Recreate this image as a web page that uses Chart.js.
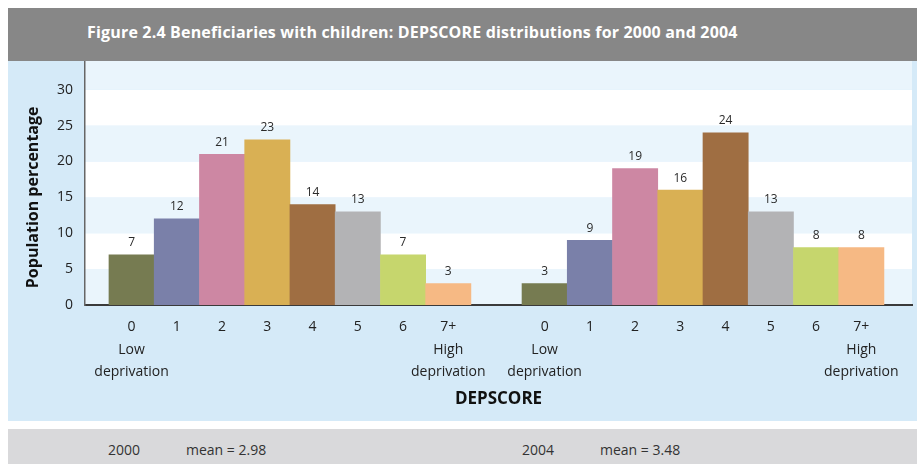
<!DOCTYPE html>
<html>
<head>
<meta charset="utf-8">
<script src="https://cdn.jsdelivr.net/npm/chart.js@4.4.1/dist/chart.umd.min.js"></script>
<style>
  body { margin: 0; background: #fff; width: 917px; height: 464px; position: relative; overflow: hidden; font-family: "Open Sans", sans-serif; }
  #header { position: absolute; left: 8px; top: 8px; width: 909px; height: 53px; background: #878787; }
  #header h1 { position: absolute; left: 79px; top: 14px; margin: 0; color: #fff; font: bold 16px/20px "Open Sans", sans-serif; letter-spacing: 0.18px; white-space: nowrap; }
  #panel { position: absolute; left: 8px; top: 61px; width: 909px; height: 360px; background: #d5eaf8; }
  #footer { position: absolute; left: 8px; top: 429px; width: 909px; height: 35px; background: #d9d9db; color: #333; font-size: 14px; line-height: 20px; }
  #footer span { position: absolute; top: 11px; white-space: nowrap; }
</style>
</head>
<body>
<div id="header"><h1>Figure 2.4 Beneficiaries with children: DEPSCORE distributions for 2000 and 2004</h1></div>
<div id="panel"><canvas id="depChart"></canvas></div>
<div id="footer">
  <span style="left:100px">2000</span><span style="left:178px">mean = 2.98</span>
  <span style="left:514px">2004</span><span style="left:592px">mean = 3.48</span>
</div>
<script>
const scoreLabels = ['0', '1', '2', '3', '4', '5', '6', '7+'];
const share2000 = [7, 12, 21, 23, 14, 13, 7, 3];
const share2004 = [3, 9, 19, 16, 24, 13, 8, 8];
const scoreColors = ['#767b51', '#7a80a9', '#cd87a3', '#d9b054', '#9f6e42', '#b3b3b5', '#c6d66d', '#f6b984'];
const lowCaption = ['Low', 'deprivation'];
const highCaption = ['High', 'deprivation'];
const yMax = 34;
const yStep = 5;

// bars sit one unit apart; the 2004 group starts after a small empty gap
const groupGap = 1.13;
const groupStart = [0, scoreLabels.length + groupGap];
const padLeft = 1.03;
const padRight = 1.12;

function toPoints(values, g) {
  return values.map((v, i) => ({ x: groupStart[g] + i, y: v }));
}

const xTickValues = [];
const xTickText = [];
groupStart.forEach(start => {
  scoreLabels.forEach((lab, i) => {
    xTickValues.push(start + i);
    if (i === 0) xTickText.push([lab].concat(lowCaption));
    else if (i === scoreLabels.length - 1) xTickText.push([lab].concat(highCaption));
    else xTickText.push(lab);
  });
});

// alternating horizontal bands behind the bars
const stripes = {
  id: 'stripes',
  beforeDraw(chart) {
    const { ctx, chartArea } = chart;
    const y = chart.scales.y;
    ctx.save();
    for (let v = 0, k = 0; v < yMax; v += yStep, k++) {
      const top = y.getPixelForValue(Math.min(v + yStep, yMax));
      const bottom = y.getPixelForValue(v);
      ctx.fillStyle = k % 2 === 0 ? '#eaf5fc' : '#ffffff';
      ctx.fillRect(chartArea.left, top, chartArea.right - chartArea.left, bottom - top);
    }
    ctx.restore();
  }
};

// value above every bar, plus the rotated y-axis caption
const labels = {
  id: 'labels',
  afterDatasetsDraw(chart) {
    const ctx = chart.ctx;
    ctx.save();
    ctx.font = '12px "Open Sans"';
    ctx.fillStyle = '#2a2a2a';
    ctx.textAlign = 'center';
    ctx.textBaseline = 'middle';
    chart.data.datasets.forEach((ds, di) => {
      chart.getDatasetMeta(di).data.forEach((bar, i) => {
        ctx.fillText(ds.data[i].y, bar.x, bar.y - 12);
      });
    });
    ctx.translate(25, chart.scales.y.getPixelForValue(15));
    ctx.rotate(-Math.PI / 2);
    ctx.font = 'bold 16px "Open Sans"';
    ctx.fillStyle = '#111';
    ctx.fillText('Population percentage', 0, 0);
    ctx.restore();
  }
};

new Chart(document.getElementById('depChart'), {
  type: 'bar',
  data: {
    datasets: [
      { label: '2000', data: toPoints(share2000, 0), backgroundColor: scoreColors },
      { label: '2004', data: toPoints(share2004, 1), backgroundColor: scoreColors }
    ]
  },
  options: {
    responsive: true,
    maintainAspectRatio: false,
    animation: false,
    layout: { padding: { left: 0, right: 5, top: 0, bottom: 0 } },
    datasets: { bar: { grouped: false, barPercentage: 1, categoryPercentage: 1 } },
    plugins: { legend: { display: false }, tooltip: { enabled: false } },
    scales: {
      x: {
        type: 'linear',
        offset: false,
        min: -padLeft,
        max: groupStart[1] + scoreLabels.length - 1 + padRight,
        grid: { display: false, drawTicks: false },
        border: { display: true, color: '#3a3a3a', width: 2 },
        afterBuildTicks(scale) {
          scale.ticks = xTickValues.map(v => ({ value: v }));
        },
        afterFit(scale) {
          scale.height = 116;
          scale.paddingLeft = 0;
          scale.paddingRight = 0;
        },
        ticks: {
          autoSkip: false,
          maxRotation: 0,
          minRotation: 0,
          padding: 11,
          color: '#222',
          font: { family: 'Open Sans', size: 14, lineHeight: 1.6 },
          callback: (value, index) => xTickText[index]
        },
        title: {
          display: true,
          text: 'DEPSCORE',
          color: '#111',
          font: { family: 'Open Sans', size: 17, weight: 'bold' },
          padding: { top: 4, bottom: 12 }
        }
      },
      y: {
        min: 0,
        max: yMax,
        grid: { display: false, drawTicks: false },
        border: { display: true, color: '#666', width: 1.5 },
        afterFit(scale) {
          scale.width = 77;
          scale.paddingTop = 0;
          scale.paddingBottom = 0;
        },
        ticks: {
          stepSize: yStep,
          includeBounds: false,
          padding: 12,
          color: '#222',
          font: { family: 'Open Sans', size: 14 }
        }
      }
    }
  },
  plugins: [stripes, labels]
});
</script>
</body>
</html>
